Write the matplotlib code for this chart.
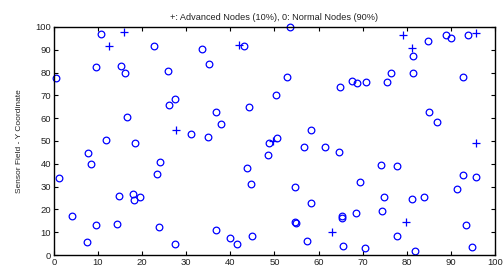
import matplotlib
matplotlib.use('Agg')
import matplotlib.pyplot as plt
import numpy as np

plt.rcParams['font.family'] = ['Liberation Sans', 'DejaVu Sans']

# normal nodes (o)
normal_x = [10.7, 22.7, 33.5, 43.1, 9.6, 15.2, 16.1, 25.8, 35.1, 0.45,
            27.5, 26.1, 36.7, 44.3, 16.5, 37.9, 31.1, 34.9, 53.6, 89.0,
            90.0, 94.0, 81.5, 84.8, 52.9, 50.4, 64.8, 67.6, 68.8, 70.7,
            75.6, 76.5, 81.5, 92.7, 85.1, 86.8, 58.3, 50.6, 11.7, 18.4,
            7.8, 8.3, 24.0, 23.3, 1.1, 43.8, 44.6, 14.7, 18.0, 18.1,
            19.5, 4.1, 9.5, 14.4, 23.9, 7.4, 27.4, 36.8, 39.9, 41.5,
            45.0, 48.8, 48.5, 56.6, 61.5, 64.6, 74.1, 77.9, 54.6, 69.4,
            74.9, 81.3, 84.0, 91.5, 92.7, 95.8, 58.3, 54.6, 54.8, 65.4,
            65.4, 68.4, 74.3, 93.4, 57.4, 65.5, 70.5, 77.9, 81.9, 94.7]
normal_y = [96.8, 91.8, 90.5, 91.5, 82.6, 82.9, 80.0, 80.6, 83.6, 77.8,
            68.4, 65.8, 62.7, 64.9, 60.4, 57.3, 53.2, 51.8, 100.0, 96.5,
            95.0, 96.4, 87.4, 93.9, 78.2, 70.3, 73.5, 76.2, 75.3, 75.9,
            75.9, 80.0, 80.0, 77.9, 62.6, 58.5, 55.0, 51.4, 50.2, 49.3,
            44.6, 40.1, 40.6, 35.7, 33.9, 38.3, 31.0, 26.0, 26.6, 24.1,
            25.3, 17.1, 13.2, 13.7, 12.3, 5.6, 4.7, 11.1, 7.6, 5.0,
            8.5, 49.3, 44.0, 47.2, 47.5, 45.3, 39.5, 39.2, 29.8, 31.9,
            25.6, 24.4, 25.6, 28.9, 35.1, 34.2, 22.7, 14.6, 14.2, 17.2,
            16.2, 18.6, 19.2, 13.2, 6.1, 3.8, 3.2, 8.2, 1.6, 3.4]

# advanced nodes (+)
adv_x = [15.8, 12.5, 42.0, 27.7, 79.1, 95.6, 81.3, 49.7, 95.6, 63.1, 79.8]
adv_y = [97.6, 91.8, 92.1, 55.0, 96.5, 97.2, 90.9, 50.1, 49.0, 9.9, 14.3]

ticks = np.arange(0, 101, 10)

fig = plt.figure(figsize=(5.04, 2.69), dpi=100)
ax = fig.add_axes([0.107, 0.052, 0.875, 0.848])

ax.plot(normal_x, normal_y, 'o', color='#0000ff', markerfacecolor='none',
        markersize=4.8, markeredgewidth=0.9, clip_on=False)
ax.plot(adv_x, adv_y, '+', color='#0000ff', markersize=6, markeredgewidth=0.9,
        clip_on=False)

ax.set_xlim(0, 100)
ax.set_ylim(0, 100)
ax.set_xticks(ticks)
ax.set_yticks(ticks)
ax.tick_params(direction='in', length=3, width=0.8, labelsize=6.8,
               top=True, right=True, pad=2, colors='black', labelcolor='#222222')
for s in ax.spines.values():
    s.set_linewidth(1.0)

ax.set_ylabel('Sensor Field - Y Coordinate', fontsize=6, labelpad=9, color='#222222')
ax.set_title('+: Advanced Nodes (10%), 0: Normal Nodes (90%)', fontsize=6.6,
             pad=5, color='#222222')

fig.savefig('out.png', dpi=100)
